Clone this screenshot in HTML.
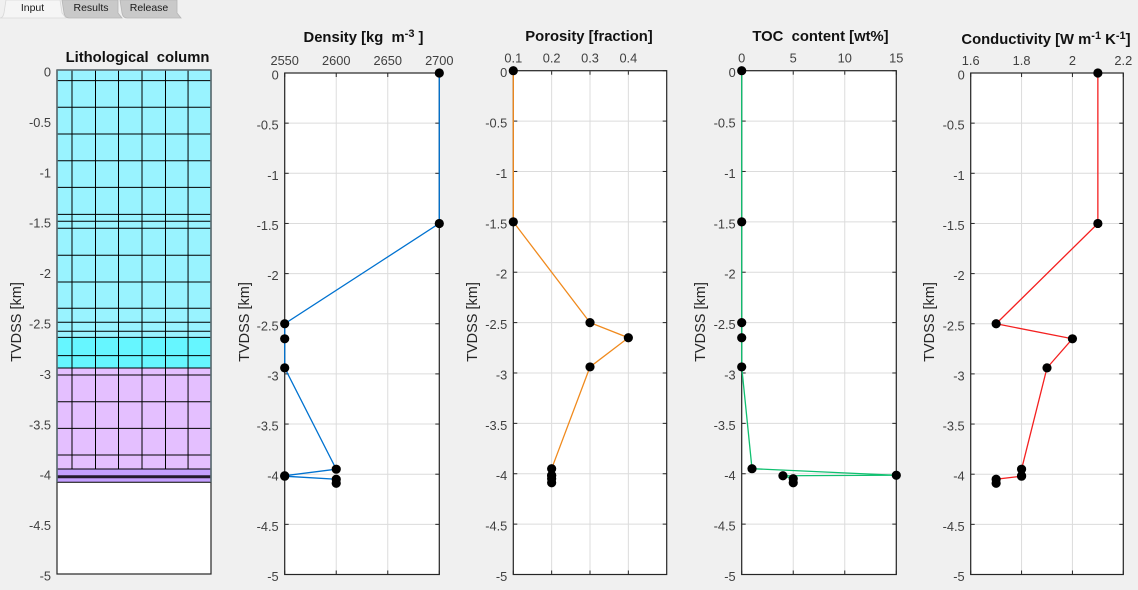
<!DOCTYPE html>
<html lang="en">
<head>
<meta charset="utf-8">
<title>Lithology input</title>
<style>
html,body{margin:0;padding:0;background:#f0f0f0;width:1138px;height:590px;overflow:hidden}
svg{display:block}
text{font-family:"Liberation Sans",Arial,sans-serif}
</style>
</head>
<body>
<svg id="root" xmlns="http://www.w3.org/2000/svg" width="1138" height="590" viewBox="0 0 1138 590">
  <rect x="0" y="0" width="1138" height="590" fill="#f0f0f0"/>
  <g>
    <g>
      <path d="M62 0 L64 13 Q65 18 69 18 L122 18 L118 13 L118 0 Z" fill="#c9c9c9" stroke="#b5b5b5" stroke-width="0.8"/>
      <text x="91" y="11" font-size="10.5" text-anchor="middle" fill="#1a1a1a">Results</text>
    </g>
    <g>
      <path d="M120 0 L122 13 Q123 18 127 18 L181 18 L177 13 L177 0 Z" fill="#c9c9c9" stroke="#b5b5b5" stroke-width="0.8"/>
      <text x="149" y="11" font-size="10.5" text-anchor="middle" fill="#1a1a1a">Release</text>
    </g>
    <g>
      <path d="M6 0 L4 13 Q3 18 0 18 L66 18 L62 13 L60 0 Z" fill="#f5f5f5" stroke="#d8d8d8" stroke-width="0.8"/>
      <text x="32.5" y="11" font-size="10.5" text-anchor="middle" fill="#1a1a1a">Input</text>
    </g>
  </g>
</svg>
<script>
var depthKm = [0, -1.5, -2.5, -2.65, -2.94, -3.95, -4.015, -4.02, -4.05, -4.09];
var densityValues = [2700, 2700, 2550, 2550, 2550, 2600, 2550, 2550, 2600, 2600];
var porosityValues = [0.1, 0.1, 0.3, 0.4, 0.3, 0.2, 0.2, 0.2, 0.2, 0.2];
var tocValues = [0, 0, 0, 0, 0, 1, 15, 4, 5, 5];
var conductivityValues = [2.1, 2.1, 1.7, 2.0, 1.9, 1.8, 1.8, 1.8, 1.7, 1.7];

var depthTicks = [0, -0.5, -1, -1.5, -2, -2.5, -3, -3.5, -4, -4.5, -5];
var depthTickLabels = ['0', '-0.5', '-1', '-1.5', '-2', '-2.5', '-3', '-3.5', '-4', '-4.5', '-5'];
var densityTicks = [2550, 2600, 2650, 2700];
var porosityTicks = [0.1, 0.2, 0.3, 0.4];
var tocTicks = [0, 5, 10, 15];
var conductivityTicks = [1.6, 1.8, 2.0, 2.2];
var conductivityTickLabels = ['1.6', '1.8', '2', '2.2'];

var layerBoundaries = [0, -2.652, -2.956, -3.958, -4.09];
var layerColors = ['#99f3ff', '#66f6ff', '#e4bfff', '#c49fff'];
var gridDepths = [-0.106, -0.37, -0.635, -0.9, -1.164, -1.432, -1.501, -1.57, -1.838, -2.103, -2.364, -2.503, -2.592, -2.652, -2.834, -2.956, -3.026, -3.291, -3.555, -3.819, -3.958, -4.09];
var columnDividers = [0.0974, 0.25, 0.3994, 0.552, 0.7045, 0.851];
var thinBedDepth = -4.035;

var NS = 'http://www.w3.org/2000/svg';
var root = document.getElementById('root');

function el(tag, attrs, parent) {
  var e = document.createElementNS(NS, tag);
  for (var k in attrs) e.setAttribute(k, attrs[k]);
  parent.appendChild(e);
  return e;
}
function scale(d0, d1, r0, r1) {
  return function (v) { return r0 + (v - d0) / (d1 - d0) * (r1 - r0); };
}

function drawYLabels(g, box, y) {
  depthTicks.forEach(function (t, i) {
    var label = el('text', { x: box.l - 6, y: y(t) + 6.5, 'font-size': 12.8, 'text-anchor': 'end', fill: '#404040' }, g);
    
    
    label.textContent = depthTickLabels[i];
  });
  var title = el('text', { transform: 'translate(' + box.yTitleX + ',322) rotate(-90)', 'font-size': 14.5, 'text-anchor': 'middle', fill: '#262626' }, g);
  
  
  title.textContent = 'TVDSS [km]';
}

function drawTitle(g, box) {
  var t = el('text', { x: box.titleX, y: box.titleY, 'font-size': 14.8, 'font-weight': 'bold', 'text-anchor': 'middle', fill: '#111', 'xml:space': 'preserve', style: 'white-space:pre' }, g);
  
  
  box.title.forEach(function (part) {
    var s = el('tspan', part.sup ? { dy: -5, 'font-size': 11 } : { dy: part.back ? 5 : 0 }, t);
    s.textContent = part.text;
  });
}

function drawProfile(box) {
  var g = el('g', {}, root);
  
  
  var x = scale(box.min, box.max, box.l, box.r);
  var y = scale(0, -5, box.t, box.b);

  var plot = el('rect', { x: box.l, y: box.t, width: box.r - box.l, height: box.b - box.t, fill: '#fff' }, g);
  
  

  box.ticks.forEach(function (t) {
    var v = el('line', { x1: x(t), x2: x(t), y1: box.t, y2: box.b, stroke: '#dcdcdc', 'stroke-width': 1 }, g);
    
    
    [[box.t, box.t + 4], [box.b, box.b - 4]].forEach(function (p) {
      var k = el('line', { x1: x(t), x2: x(t), y1: p[0], y2: p[1], stroke: '#262626', 'stroke-width': 1 }, g);
      
      
    });
  });
  depthTicks.forEach(function (t) {
    var h = el('line', { x1: box.l, x2: box.r, y1: y(t), y2: y(t), stroke: '#dcdcdc', 'stroke-width': 1 }, g);
    
    
    [[box.l, box.l + 4], [box.r, box.r - 4]].forEach(function (p) {
      var k = el('line', { x1: p[0], x2: p[1], y1: y(t), y2: y(t), stroke: '#262626', 'stroke-width': 1 }, g);
      
      
    });
  });

  var frame = el('rect', { x: box.l, y: box.t, width: box.r - box.l, height: box.b - box.t, fill: 'none', stroke: '#262626', 'stroke-width': 1.2 }, g);
  
  

  box.ticks.forEach(function (t, i) {
    var label = el('text', { x: x(t), y: box.t - 8, 'font-size': 12.8, 'text-anchor': 'middle', fill: '#404040' }, g);
    
    
    label.textContent = box.tickLabels ? box.tickLabels[i] : String(t);
  });
  drawYLabels(g, box, y);
  drawTitle(g, box);

  var pts = box.values.map(function (v, i) { return x(v) + ',' + y(depthKm[i]); }).join(' ');
  var line = el('polyline', { points: pts, fill: 'none', stroke: box.color, 'stroke-width': 1.3 }, g);
  
  

  box.values.forEach(function (v, i) {
    var c = el('circle', { cx: x(v), cy: y(depthKm[i]), r: 4.6, fill: '#000' }, g);
    
    
  });
}

function drawColumn(box) {
  var g = el('g', {}, root);
  
  
  var y = scale(0, -5, box.t, box.b);
  var w = box.r - box.l;

  var plot = el('rect', { x: box.l, y: box.t, width: w, height: box.b - box.t, fill: '#fff' }, g);
  
  

  layerColors.forEach(function (color, i) {
    var r = el('rect', { x: box.l, y: y(layerBoundaries[i]), width: w, height: y(layerBoundaries[i + 1]) - y(layerBoundaries[i]), fill: color }, g);
    
    
  });
  gridDepths.forEach(function (d) {
    var h = el('line', { x1: box.l, x2: box.r, y1: y(d), y2: y(d), stroke: '#000', 'stroke-width': 1 }, g);
    
    
  });
  columnDividers.forEach(function (f) {
    var xp = box.l + f * w;
    var v = el('line', { x1: xp, x2: xp, y1: y(0), y2: y(-3.958), stroke: '#000', 'stroke-width': 1 }, g);
    
    
  });
  var bed = el('line', { x1: box.l, x2: box.r, y1: y(thinBedDepth), y2: y(thinBedDepth), stroke: '#241a2e', 'stroke-width': 3 }, g);
  
  

  var frame = el('rect', { x: box.l, y: box.t, width: w, height: box.b - box.t, fill: 'none', stroke: '#262626', 'stroke-width': 1.2 }, g);
  
  
  var edges = el('path', { d: 'M' + box.l + ' ' + box.t + 'V' + y(-4.09) + 'M' + box.r + ' ' + box.t + 'V' + y(-4.09) + 'M' + box.l + ' ' + box.t + 'H' + box.r, fill: 'none', stroke: '#5d6f74', 'stroke-width': 1.6 }, g);
  
  

  drawYLabels(g, box, y);
  drawTitle(g, box);
}

drawColumn({ l: 57, r: 211, t: 70, b: 574, yTitleX: 21, titleX: 137.5, titleY: 62,
  title: [{ text: 'Lithological  column' }] });

drawProfile({ name: 'density', l: 284.7, r: 439.3, t: 73, b: 574.5, min: 2550, max: 2700, ticks: densityTicks,
  values: densityValues, color: '#0072d0', yTitleX: 249, titleX: 363.5, titleY: 42,
  title: [{ text: 'Density [kg  m' }, { text: '-3', sup: true }, { text: ' ]', back: true }] });

drawProfile({ name: 'porosity', l: 513.3, r: 666.7, t: 70.7, b: 574.5, min: 0.1, max: 0.5, ticks: porosityTicks,
  values: porosityValues, color: '#f08a1d', yTitleX: 477, titleX: 589, titleY: 41,
  title: [{ text: 'Porosity [fraction]' }] });

drawProfile({ name: 'toc', l: 741.7, r: 896.3, t: 70.7, b: 574.5, min: 0, max: 15, ticks: tocTicks,
  values: tocValues, color: '#10c070', yTitleX: 705, titleX: 820.5, titleY: 41,
  title: [{ text: 'TOC  content [wt%]' }] });

drawProfile({ name: 'conductivity', l: 970.7, r: 1123.3, t: 73, b: 574.5, min: 1.6, max: 2.2, ticks: conductivityTicks,
  tickLabels: conductivityTickLabels, values: conductivityValues, color: '#f42020', yTitleX: 934, titleX: 1046, titleY: 44,
  title: [{ text: 'Conductivity [W m' }, { text: '-1', sup: true }, { text: ' K', back: true }, { text: '-1', sup: true }, { text: ']', back: true }] });
</script>
</body>
</html>
